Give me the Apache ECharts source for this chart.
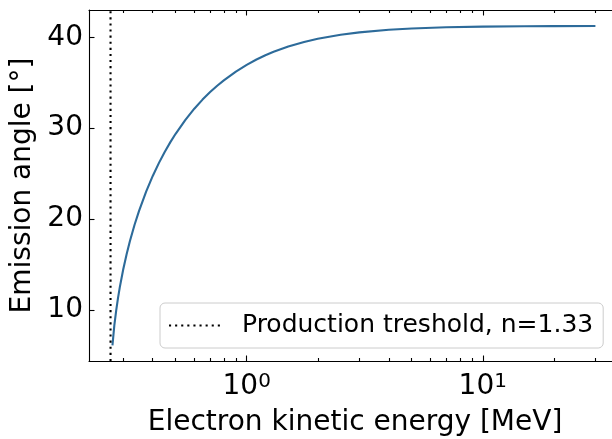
<!DOCTYPE html>
<html>
<head>
<meta charset="utf-8">
<script src="https://cdn.jsdelivr.net/npm/echarts@6/dist/echarts.min.js"></script>
<style>
  html, body { margin: 0; padding: 0; background: #ffffff; }
  #chart { width: 612px; height: 439px; }
</style>
</head>
<body>
<div id="chart"></div>
<script>
// Cherenkov emission angle of an electron in a medium with n = 1.33
const energyMeV = [0.27, 0.275, 0.28, 0.285, 0.29, 0.30, 0.31, 0.32, 0.335, 0.35, 0.375, 0.40, 0.425, 0.45, 0.475,
                   0.50, 0.55, 0.60, 0.65, 0.70, 0.75, 0.80, 0.90, 1.0, 1.1, 1.2, 1.3, 1.5, 1.75, 2.0, 2.5, 3.0,
                   4.0, 5.0, 7.0, 10, 15, 20, 30];
const angleDeg = [6.1, 8.29, 9.93, 11.30, 12.48, 14.48, 16.13, 17.55, 19.37, 20.90, 23.02, 24.74, 26.18, 27.41, 28.46,
                  29.38, 30.91, 32.14, 33.14, 33.97, 34.67, 35.26, 36.23, 36.96, 37.55, 38.02, 38.40, 38.98, 39.48, 39.83, 40.28, 40.54,
                  40.83, 40.97, 41.10, 41.17, 41.22, 41.23, 41.24];
const thresholdMeV = 0.265;
const thresholdName = 'Production treshold, n=1.33';

const xMajorTicks = [1, 10];
const xMinorTicks = [0.3, 0.4, 0.5, 0.6, 0.7, 0.8, 0.9, 2, 3, 4, 5, 6, 7, 8, 9, 20, 30];
const yTicks = [10, 20, 30, 40];

const xMin = 0.2148, xMax = 38.5;
const yMin = 4.38, yMax = 43.0;

const FONT = 'DejaVu Sans';
const curveData = energyMeV.map((e, i) => [e, angleDeg[i]]);
const thresholdData = [[thresholdMeV, yMin], [thresholdMeV, yMax]];

function xAxisDef(position, ticks, len, showLine, showLabel) {
  return {
    type: 'log', logBase: 10, position: position, min: xMin, max: xMax,
    axisLine: { show: showLine, onZero: false, lineStyle: { color: '#000', width: 1.1 } },
    axisTick: { show: true, inside: true, length: len, customValues: ticks, lineStyle: { color: '#000', width: 1.1 } },
    axisLabel: showLabel ? {
      show: true, customValues: ticks, margin: 11,
      formatter: v => '{a|10}{s|' + Math.round(Math.log10(v)) + '}',
      rich: {
        a: { fontFamily: FONT, fontSize: 28, color: '#000', lineHeight: 30 },
        s: { fontFamily: FONT, fontSize: 20, color: '#000', verticalAlign: 'top', lineHeight: 20 }
      }
    } : { show: false },
    splitLine: { show: false }, minorTick: { show: false }, minorSplitLine: { show: false }
  };
}

function yAxisDef(position, showLabel) {
  return {
    type: 'value', position: position, min: yMin, max: yMax,
    axisLine: { show: true, onZero: false, lineStyle: { color: '#000', width: 1.1 } },
    axisTick: { show: true, inside: true, length: 5.5, customValues: yTicks, lineStyle: { color: '#000', width: 1.1 } },
    axisLabel: showLabel ? {
      show: true, customValues: yTicks, margin: 6, fontFamily: FONT, fontSize: 28, color: '#000',
      padding: [9, 0, 0, 0]
    } : { show: false },
    splitLine: { show: false },
    name: showLabel ? 'Emission angle [°]' : '',
    nameLocation: 'middle', nameGap: 41,
    nameTextStyle: { fontFamily: FONT, fontSize: 28, color: '#000' }
  };
}

const bottomMajor = xAxisDef('bottom', xMajorTicks, 5.5, true, true);
bottomMajor.name = 'Electron kinetic energy [MeV]';
bottomMajor.nameLocation = 'middle';
bottomMajor.nameGap = 48;
bottomMajor.nameTextStyle = { fontFamily: FONT, fontSize: 28, color: '#000' };

const chart = echarts.init(document.getElementById('chart'), null, { renderer: 'canvas' });
chart.setOption({
  animation: false,
  backgroundColor: '#ffffff',
  grid: { left: 89, top: 10, width: 532, height: 351, containLabel: false, outerBoundsMode: 'none' },
  xAxis: [
    bottomMajor,
    xAxisDef('bottom', xMinorTicks, 3, false, false),
    xAxisDef('top', xMajorTicks, 5.5, true, false),
    xAxisDef('top', xMinorTicks, 3, false, false)
  ],
  yAxis: [yAxisDef('left', true), yAxisDef('right', false)],
  legend: {
    data: [thresholdName],
    left: 160, top: 303,
    orient: 'vertical',
    backgroundColor: 'rgba(255,255,255,0.8)',
    borderColor: '#cccccc', borderWidth: 1, borderRadius: 5,
    padding: [10, 10, 10, 8],
    itemWidth: 52, itemHeight: 14,
    itemStyle: { opacity: 0 },
    textStyle: { fontFamily: FONT, fontSize: 25, color: '#000', padding: [0, 0, 0, 16] }
  },
  series: [
    {
      type: 'line', name: 'angle', data: curveData, xAxisIndex: 0, yAxisIndex: 0,
      symbol: 'none', smooth: false, clip: true,
      lineStyle: { color: '#2d6b9a', width: 2.1 }
    },
    {
      type: 'line', name: thresholdName, data: thresholdData, xAxisIndex: 0, yAxisIndex: 0,
      symbol: 'none', clip: true,
      itemStyle: { color: '#000' },
      lineStyle: { color: '#000', width: 2.1, type: [2.1, 4], cap: 'butt' }
    }
  ]
});
</script>
</body>
</html>
